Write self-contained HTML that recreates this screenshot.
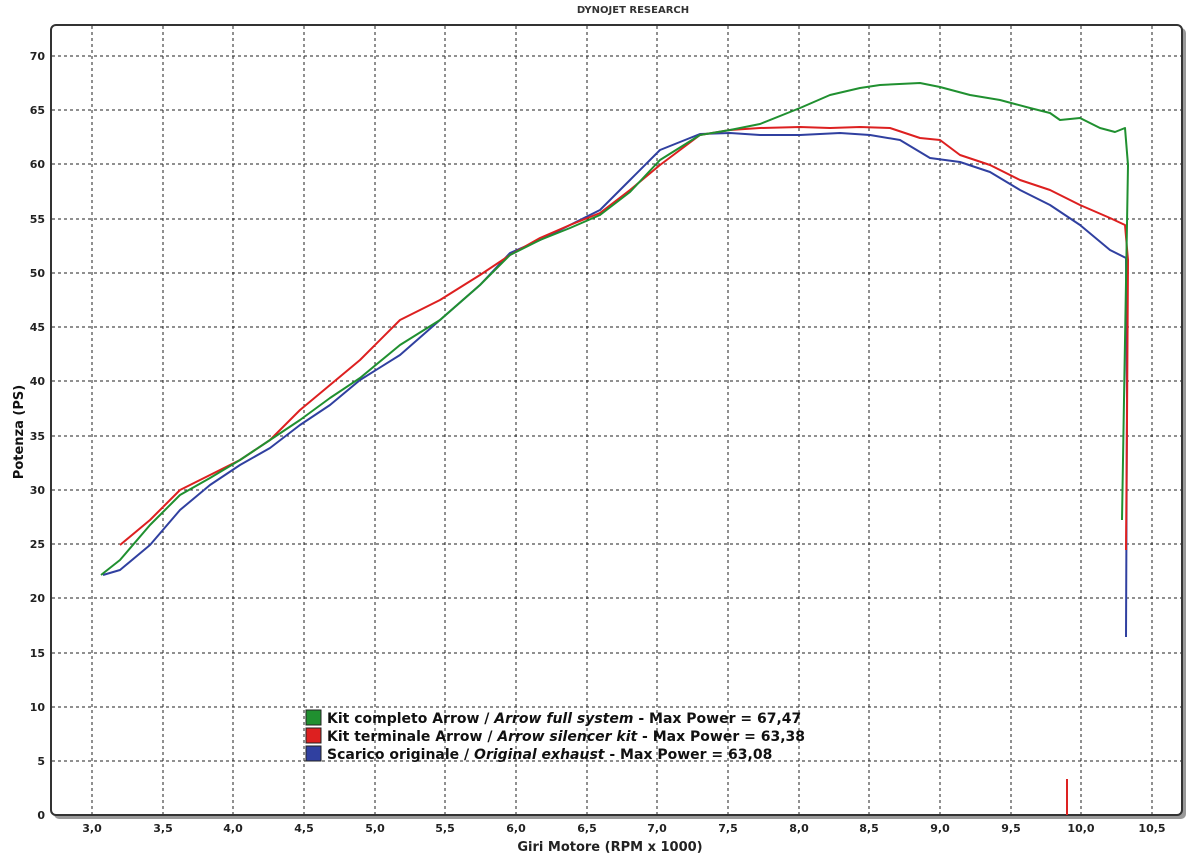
<!DOCTYPE html><html><head><style>body{margin:0;background:#fff}svg{display:block}text{font-family:"DejaVu Sans","Liberation Sans",sans-serif}</style></head><body>
<svg width="1200" height="862" viewBox="0 0 1200 862">
<text x="633" y="13" font-size="10" font-weight="bold" text-anchor="middle" fill="#333">DYNOJET RESEARCH</text>
<rect x="54" y="28" width="1132" height="791" rx="5" fill="#999"/>
<rect x="51" y="25" width="1131" height="790" rx="5" fill="#fff" stroke="#333" stroke-width="2"/>
<g stroke="#222" stroke-width="1" stroke-dasharray="3,3" fill="none">
<path d="M92 26V814M163 26V814M233 26V814M304 26V814M375 26V814M445 26V814M516 26V814M587 26V814M657 26V814M728 26V814M799 26V814M869 26V814M940 26V814M1011 26V814M1081 26V814M1152 26V814"/>
<path d="M52 56H1181M52 110H1181M52 164H1181M52 219H1181M52 273H1181M52 327H1181M52 381H1181M52 436H1181M52 490H1181M52 544H1181M52 598H1181M52 653H1181M52 707H1181M52 761H1181"/>
</g>
<g font-size="11" font-weight="bold" fill="#222" text-anchor="end">
<text x="45" y="60">70</text><text x="45" y="114">65</text><text x="45" y="168">60</text><text x="45" y="223">55</text><text x="45" y="277">50</text><text x="45" y="331">45</text><text x="45" y="385">40</text><text x="45" y="440">35</text><text x="45" y="494">30</text><text x="45" y="548">25</text><text x="45" y="602">20</text><text x="45" y="657">15</text><text x="45" y="711">10</text><text x="45" y="765">5</text><text x="45" y="819">0</text>
</g>
<g font-size="11" font-weight="bold" fill="#222" text-anchor="middle">
<text x="92" y="832">3,0</text><text x="163" y="832">3,5</text><text x="233" y="832">4,0</text><text x="304" y="832">4,5</text><text x="375" y="832">5,0</text><text x="445" y="832">5,5</text><text x="516" y="832">6,0</text><text x="587" y="832">6,5</text><text x="657" y="832">7,0</text><text x="728" y="832">7,5</text><text x="799" y="832">8,0</text><text x="869" y="832">8,5</text><text x="940" y="832">9,0</text><text x="1011" y="832">9,5</text><text x="1081" y="832">10,0</text><text x="1152" y="832">10,5</text>
<text x="610" y="851" font-size="13">Giri Motore (RPM x 1000)</text>
</g>
<text transform="translate(23,432) rotate(-90)" font-size="13" font-weight="bold" text-anchor="middle" fill="#111">Potenza (PS)</text>
<line x1="1067" y1="779" x2="1067" y2="815" stroke="#d22" stroke-width="2"/>
<g fill="none" stroke-width="2" stroke-linejoin="round">
<polyline stroke="#3040a0" points="103,575 120,570 150,545 180,510 210,485 240,465 270,448 300,425 330,405 360,380 400,355 440,320 480,285 510,253 540,240 570,225 600,210 630,180 660,150 700,134 730,133 760,135 800,135 840,133 870,135 900,140 930,158 960,162 990,172 1020,190 1050,205 1080,225 1110,250 1126,258 1127,400 1126,637"/>
<polyline stroke="#dd2020" points="120,545 150,520 180,490 210,475 240,460 270,440 300,410 330,385 360,360 400,320 440,300 480,275 510,255 540,238 570,225 600,213 630,190 660,165 700,135 730,130 760,128 800,127 830,128 860,127 890,128 920,138 940,140 960,155 990,165 1020,180 1050,190 1080,205 1110,218 1125,225 1128,260 1127,420 1126,550"/>
<polyline stroke="#209030" points="101,575 120,560 150,525 180,495 210,478 240,460 270,440 300,420 330,398 360,378 400,345 440,320 480,285 510,255 540,240 570,228 600,215 630,192 660,160 700,135 730,130 760,124 800,108 830,95 860,88 880,85 920,83 940,87 970,95 1000,100 1030,108 1050,113 1060,120 1080,118 1100,128 1115,132 1125,128 1128,165 1124,400 1122,520"/>
</g>
<rect x="306" y="710" width="15" height="15" fill="#209030" stroke="#222"/>
<rect x="306" y="728" width="15" height="15" fill="#dd2020" stroke="#222"/>
<rect x="306" y="746" width="15" height="15" fill="#3040a0" stroke="#222"/>
<g font-size="14" font-weight="bold" fill="#111">
<text x="327" y="723">Kit completo Arrow / <tspan font-style="italic">Arrow full system</tspan> - Max Power = 67,47</text>
<text x="327" y="741">Kit terminale Arrow / <tspan font-style="italic">Arrow silencer kit</tspan> - Max Power = 63,38</text>
<text x="327" y="759">Scarico originale / <tspan font-style="italic">Original exhaust</tspan> - Max Power = 63,08</text>
</g>
</svg></body></html>
